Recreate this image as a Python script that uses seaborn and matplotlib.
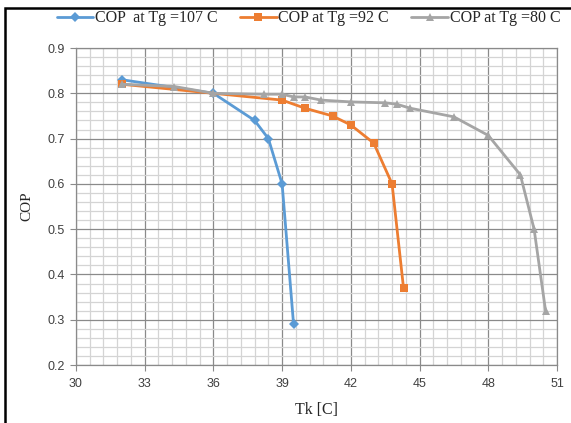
import numpy as np
import pandas as pd
import matplotlib.pyplot as plt
import seaborn as sns
from matplotlib.patches import Rectangle
from matplotlib.ticker import MultipleLocator

# dados
tk_107 = [32, 36, 37.8, 38.4, 39.0, 39.5]
cop_107 = [0.83, 0.80, 0.74, 0.70, 0.60, 0.29]

tk_92 = [32, 39.0, 40.0, 41.2, 42.0, 43.0, 43.8, 44.3]
cop_92 = [0.82, 0.785, 0.767, 0.75, 0.73, 0.69, 0.60, 0.37]

tk_80 = [32, 34.3, 36, 38.2, 39.0, 39.5, 40.0, 40.7, 42.0, 43.5, 44.0, 44.6, 46.5, 48.0, 49.4, 50.0, 50.5]
cop_80 = [0.82, 0.815, 0.80, 0.798, 0.798, 0.792, 0.792, 0.785, 0.781, 0.779, 0.776, 0.767, 0.748, 0.707, 0.62, 0.50, 0.32]

series = ["COP  at Tg =107 C", "COP at Tg =92 C", "COP at Tg =80 C"]

df = pd.concat([
    pd.DataFrame({"Tk": tk_107, "COP": cop_107, "serie": series[0]}),
    pd.DataFrame({"Tk": tk_92, "COP": cop_92, "serie": series[1]}),
    pd.DataFrame({"Tk": tk_80, "COP": cop_80, "serie": series[2]}),
])

sns.set_style("white")
plt.rcParams["font.family"] = ["Liberation Sans", "DejaVu Sans"]

fig = plt.figure(figsize=(5.71, 4.23), dpi=100)
ax = fig.add_axes([0.133, 0.137, 0.8425, 0.7495])

cores = {series[0]: "#5B9BD5", series[1]: "#ED7D31", series[2]: "#A5A5A5"}
marcadores = {series[0]: "D", series[1]: "s", series[2]: "^"}

sns.lineplot(data=df, x="Tk", y="COP", hue="serie", style="serie",
             palette=cores, markers=marcadores, dashes=False, sort=False,
             linewidth=2, markersize=5.5, markeredgewidth=0, ax=ax, zorder=3)

ax.set_xlim(30, 51)
ax.set_ylim(0.2, 0.9)
ax.xaxis.set_major_locator(MultipleLocator(3))
ax.xaxis.set_minor_locator(MultipleLocator(0.6))
ax.yaxis.set_major_locator(MultipleLocator(0.1))
ax.yaxis.set_minor_locator(MultipleLocator(0.02))
ax.grid(which="major", color="#8a8a8a", linewidth=0.9)
ax.grid(which="minor", color="#d4d4d4", linewidth=0.9)
ax.set_axisbelow(True)
ax.set_xticks(range(30, 52, 3))
ax.set_xticklabels([str(v) for v in range(30, 52, 3)])
ax.tick_params(which="major", length=4, color="#8a8a8a", labelsize=9, labelcolor="#404040", pad=4)
ax.tick_params(which="minor", length=0)
ax.tick_params(axis="x", direction="out", bottom=True, pad=5)
ax.tick_params(axis="y", direction="out", left=True)
for s in ax.spines.values():
    s.set_color("#8a8a8a")
    s.set_linewidth(0.9)

ax.set_xlabel("Tk [C]", family="Liberation Serif", fontsize=11.5, labelpad=9)
ax.set_ylabel("COP", family="Liberation Serif", fontsize=11, labelpad=10)

handles, labels = ax.get_legend_handles_labels()
ax.get_legend().remove()
fig.legend(handles, labels, loc="center", bbox_to_anchor=(0.54, 0.957), ncol=3,
           frameon=False, prop={"family": "Liberation Serif", "size": 11.5},
           handlelength=2.3, handletextpad=0.1, columnspacing=1.4)

fig.patches.append(Rectangle((0.009, -0.05), 1.2, 1.03, transform=fig.transFigure,
                             fill=False, edgecolor="black", linewidth=1.8))

plt.savefig("out.png", dpi=100)
